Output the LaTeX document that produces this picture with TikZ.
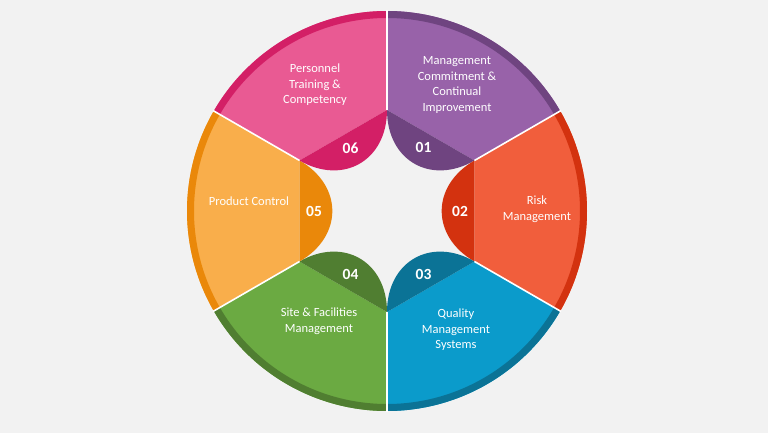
\documentclass[tikz,border=0pt]{standalone}
\usepackage{fontspec}
\setmainfont{Carlito}
\usetikzlibrary{calc}

\definecolor{bggray}{HTML}{F2F2F2}
\definecolor{purL}{HTML}{9862A9}\definecolor{purD}{HTML}{6F4480}
\definecolor{redL}{HTML}{F15E3C}\definecolor{redD}{HTML}{D3320F}
\definecolor{bluL}{HTML}{0B9BCB}\definecolor{bluD}{HTML}{0B7396}
\definecolor{grnL}{HTML}{6BAA42}\definecolor{grnD}{HTML}{507E31}
\definecolor{orgL}{HTML}{F9AE4B}\definecolor{orgD}{HTML}{EA880A}
\definecolor{pnkL}{HTML}{E95A93}\definecolor{pnkD}{HTML}{D31F66}

\begin{document}
\begin{tikzpicture}[
  label/.style={text=white,align=center,font=\fontsize{12.5}{15.5}\selectfont},
  num/.style={text=white,font=\fontsize{15.5}{18}\selectfont\bfseries},
  divider/.style={draw=white,line width=1.6pt}]
\useasboundingbox[fill=bggray] (-387pt,-222pt) rectangle (381pt,211pt);
% six segments: start angle / light / dark
\foreach \a/\lc/\dc [count=\i] in {30/purL/purD,-30/redL/redD,-90/bluL/bluD,-150/grnL/grnD,150/orgL/orgD,90/pnkL/pnkD}{
  \pgfmathsetmacro{\b}{\a+60}
  \fill[\lc] (\a:101pt) -- (\a:200pt) arc[start angle=\a,end angle=\b,radius=200pt] -- (\b:101pt) -- cycle;
  \fill[\dc] (\a:200pt) arc[start angle=\a,end angle=\b,radius=200pt] -- (\b:193pt) arc[start angle=\b,end angle=\a,radius=193pt] -- cycle;
  \fill[\dc] (\b:101pt) .. controls (\b:50.5pt) and (\a:50.5pt) .. (\a:101pt) -- cycle;
  \node[num] (num\i) at (\a+30:73pt) {0\i};
}
\foreach \a in {30,-30,-90,-150,150,90}
  \draw[divider] (\a:101pt) -- (\a:201pt);
% labels
\node[label] (lbl1) at (70pt,126pt) {Management\\Commitment \&\\Continual\\Improvement};
\node[label] (lbl2) at (150pt,2pt) {Risk\\Management};
\node[label] (lbl3) at (69pt,-119pt) {Quality\\Management\\Systems};
\node[label] (lbl4) at (-68pt,-110pt) {Site \& Facilities\\Management};
\node[label] (lbl5) at (-138pt,10pt) {Product Control};
\node[label] (lbl6) at (-72pt,126pt) {Personnel\\Training \&\\Competency};
\end{tikzpicture}
\end{document}
